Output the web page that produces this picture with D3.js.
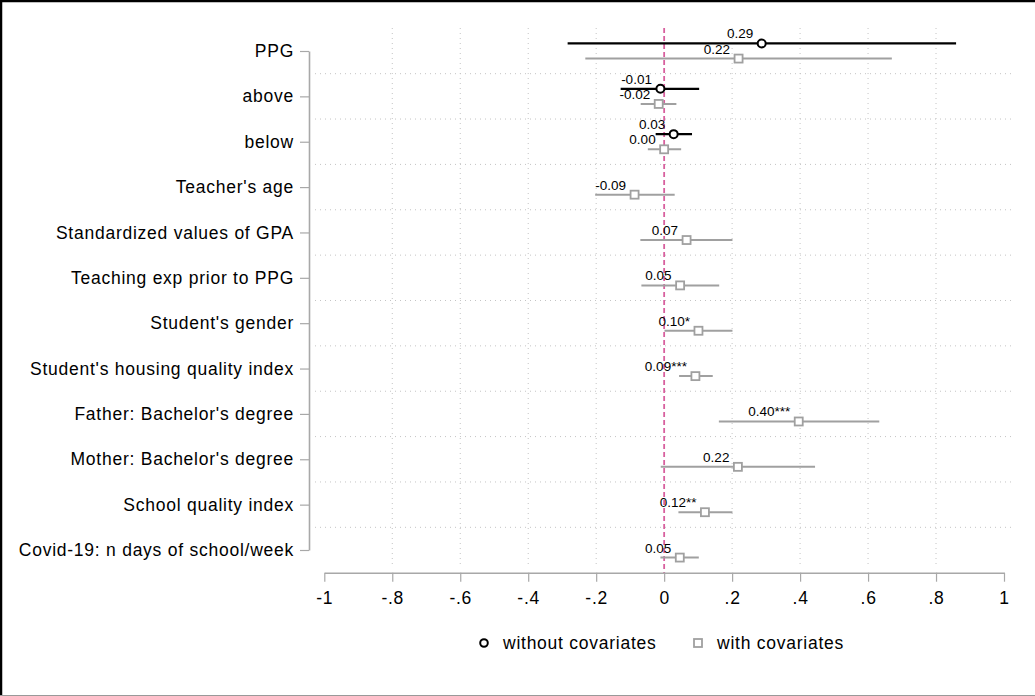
<!DOCTYPE html>
<html>
<head>
<meta charset="utf-8">
<script src="https://cdn.jsdelivr.net/npm/d3@7"></script>
<style>
  html, body { margin: 0; padding: 0; background: #fff; }
  svg { display: block; font-family: "Liberation Sans", Arial, Helvetica, sans-serif; }
</style>
</head>
<body>
<svg id="chart" width="1035" height="696"></svg>
<script>
// Coefficient plot: two model specifications, point estimates with 95% CIs
const categories = [
  "PPG", "above", "below", "Teacher's age", "Standardized values of GPA",
  "Teaching exp prior to PPG", "Student's gender", "Student's housing quality index",
  "Father: Bachelor's degree", "Mother: Bachelor's degree", "School quality index",
  "Covid-19: n days of school/week"
];

// Model without covariates (first three terms only)
const withoutCoef  = [0.287, -0.011, 0.028];
const withoutLo    = [-0.284, -0.128, -0.025];
const withoutHi    = [0.859, 0.103, 0.082];
const withoutStars = ["", "", ""];

// Model with covariates
const withCoef  = [0.219, -0.016, 0.000, -0.087, 0.066, 0.047, 0.101, 0.092, 0.396, 0.217, 0.120, 0.046];
const withLo    = [-0.232, -0.069, -0.048, -0.203, -0.070, -0.067, 0.001, 0.044, 0.161, -0.010, 0.042, -0.011];
const withHi    = [0.670, 0.036, 0.050, 0.031, 0.201, 0.162, 0.201, 0.143, 0.633, 0.444, 0.201, 0.102];
const withStars = ["", "", "", "", "", "", "*", "***", "***", "", "**", ""];

const xTickValues = [-1, -0.8, -0.6, -0.4, -0.2, 0, 0.2, 0.4, 0.6, 0.8, 1];
const xTickLabels = ["-1", "-.8", "-.6", "-.4", "-.2", "0", ".2", ".4", ".6", ".8", "1"];
const legendLabels = ["without covariates", "with covariates"];

const svg = d3.select("#chart");
const W = 1035, H = 696;

const x = d3.scaleLinear().domain([-1, 1]).range([324.3, 1004]);
const y = d3.scaleLinear().domain([0, categories.length - 1]).range([51, 550]);
const off = 0.167; // vertical offset between the two models within a row

const axisGray = "#a8a8a8";
const gridGray = "#c4c4c4";
const seriesGray = "#a0a0a0";
const fontFamily = "'Liberation Sans', Arial, sans-serif";
const bigFont = 17.5, bigSpacing = "0.75px";

// outer frame
svg.append("rect").attr("x", 0).attr("y", 0).attr("width", W).attr("height", H).attr("fill", "#fff");
svg.append("line").attr("x1", 0).attr("x2", W).attr("y1", 1).attr("y2", 1).attr("stroke", "#000").attr("stroke-width", 2.5);
svg.append("line").attr("x1", 1).attr("x2", 1).attr("y1", 0).attr("y2", H).attr("stroke", "#000").attr("stroke-width", 2.5);
svg.append("line").attr("x1", 0).attr("x2", W).attr("y1", H - 0.5).attr("y2", H - 0.5).attr("stroke", "#999").attr("stroke-width", 1);

const plotTop = 28, plotBottom = 566, plotLeft = 315, plotRight = 1012;

// vertical dotted gridlines (interior ticks only)
svg.append("g").selectAll("line")
  .data(xTickValues.filter(v => v > -1 && v < 1 && v !== 0))
  .join("line")
  .attr("x1", d => x(d)).attr("x2", d => x(d))
  .attr("y1", plotTop).attr("y2", plotBottom)
  .attr("stroke", gridGray).attr("stroke-width", 1).attr("stroke-dasharray", "1,4");

// horizontal dotted gridlines between rows
svg.append("g").selectAll("line")
  .data(d3.range(categories.length - 1).map(i => i + 0.5))
  .join("line")
  .attr("x1", plotLeft).attr("x2", plotRight)
  .attr("y1", d => y(d)).attr("y2", d => y(d))
  .attr("stroke", gridGray).attr("stroke-width", 1).attr("stroke-dasharray", "1,4");

// zero reference line
svg.append("line")
  .attr("x1", x(0)).attr("x2", x(0))
  .attr("y1", plotTop).attr("y2", 573)
  .attr("stroke", "#d8609e").attr("stroke-width", 1.8).attr("stroke-dasharray", "5,3");

// x axis
const xAxis = svg.append("g").attr("transform", "translate(0,572.7)")
  .call(d3.axisBottom(x).tickValues(xTickValues)
    .tickFormat((d, i) => xTickLabels[i]).tickSize(9).tickSizeOuter(0));
xAxis.select(".domain").attr("stroke", axisGray).attr("stroke-width", 1.6);
xAxis.selectAll(".tick line").attr("stroke", axisGray).attr("stroke-width", 1.2);
xAxis.selectAll(".tick text").attr("y", 31).attr("dy", 0)
  .attr("font-size", bigFont).attr("letter-spacing", bigSpacing).attr("fill", "#000")
  .attr("font-family", fontFamily);

// y axis
const yAxis = svg.append("g").attr("transform", "translate(309,0)")
  .call(d3.axisLeft(y).tickValues(d3.range(categories.length))
    .tickFormat(i => categories[i]).tickSize(9).tickPadding(6).tickSizeOuter(0));
yAxis.select(".domain").attr("stroke", axisGray).attr("stroke-width", 1.6);
yAxis.selectAll(".tick line").attr("stroke", axisGray).attr("stroke-width", 1.2);
yAxis.selectAll(".tick text").attr("font-size", bigFont).attr("letter-spacing", bigSpacing)
  .attr("fill", "#000").attr("font-family", fontFamily);

const fmt = v => (Math.round(v * 100) / 100).toFixed(2);

// with-covariates series (drawn below the other one)
const gWith = svg.append("g");
const withRows = withCoef.map((c, i) => ({ i, c, lo: withLo[i], hi: withHi[i], s: withStars[i] }));
gWith.selectAll("line.ci").data(withRows).join("line").attr("class", "ci")
  .attr("x1", d => x(d.lo)).attr("x2", d => x(d.hi))
  .attr("y1", d => y(d.i + off)).attr("y2", d => y(d.i + off))
  .attr("stroke", seriesGray).attr("stroke-width", 2);
gWith.selectAll("rect").data(withRows).join("rect")
  .attr("x", d => x(d.c) - 4).attr("y", d => y(d.i + off) - 4)
  .attr("width", 8).attr("height", 8)
  .attr("fill", "#fff").attr("stroke", seriesGray).attr("stroke-width", 1.8);
gWith.selectAll("text").data(withRows).join("text")
  .attr("x", d => x(d.c) - 8.5).attr("y", d => y(d.i + off) - 5)
  .attr("text-anchor", "end").attr("font-size", 13.5).attr("fill", "#000")
  .text(d => fmt(d.c) + d.s);

// without-covariates series
const gWithout = svg.append("g");
const withoutRows = withoutCoef.map((c, i) => ({ i, c, lo: withoutLo[i], hi: withoutHi[i], s: withoutStars[i] }));
gWithout.selectAll("line.ci").data(withoutRows).join("line").attr("class", "ci")
  .attr("x1", d => x(d.lo)).attr("x2", d => x(d.hi))
  .attr("y1", d => y(d.i - off)).attr("y2", d => y(d.i - off))
  .attr("stroke", "#000").attr("stroke-width", 2.2);
gWithout.selectAll("circle").data(withoutRows).join("circle")
  .attr("cx", d => x(d.c)).attr("cy", d => y(d.i - off)).attr("r", 4)
  .attr("fill", "#fff").attr("stroke", "#000").attr("stroke-width", 2);
gWithout.selectAll("text").data(withoutRows).join("text")
  .attr("x", d => x(d.c) - 8.5).attr("y", d => y(d.i - off) - 5)
  .attr("text-anchor", "end").attr("font-size", 13.5).attr("fill", "#000")
  .text(d => fmt(d.c) + d.s);

// legend
const leg = svg.append("g").attr("font-size", bigFont).attr("letter-spacing", bigSpacing);
leg.append("circle").attr("cx", 484).attr("cy", 643).attr("r", 3.8)
  .attr("fill", "#fff").attr("stroke", "#000").attr("stroke-width", 2);
leg.append("text").attr("x", 503).attr("y", 648.5).text(legendLabels[0]);
leg.append("rect").attr("x", 694).attr("y", 639).attr("width", 8).attr("height", 8)
  .attr("fill", "#fff").attr("stroke", seriesGray).attr("stroke-width", 1.8);
leg.append("text").attr("x", 717).attr("y", 648.5).text(legendLabels[1]);
</script>
</body>
</html>
